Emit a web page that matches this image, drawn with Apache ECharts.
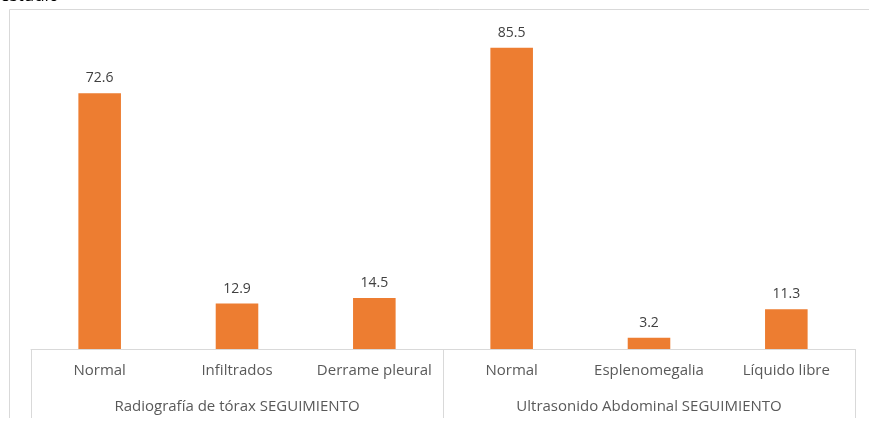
<!DOCTYPE html>
<html>
<head>
<meta charset="utf-8">
<script src="https://cdn.jsdelivr.net/npm/echarts@6/dist/echarts.min.js"></script>
<style>
  html, body { margin: 0; padding: 0; background: #ffffff; }
  #chart { width: 869px; height: 423px; }
</style>
</head>
<body>
<div id="chart"></div>
<script>
// Hallazgos de seguimiento (%), agrupados por estudio
const categories = ['Normal', 'Infiltrados', 'Derrame pleural', 'Normal', 'Esplenomegalia', 'Líquido libre'];
const groups = ['Radiografía de tórax SEGUIMIENTO', 'Ultrasonido Abdominal SEGUIMIENTO'];
const values = [72.6, 12.9, 14.5, 85.5, 3.2, 11.3];

const FONT = '"Open Sans", sans-serif';
const chart = echarts.init(document.getElementById('chart'));

chart.setOption({
  backgroundColor: '#ffffff',
  animation: false,
  grid: { left: 31, right: 14, top: 32, bottom: 74 },
  graphic: [
    {
      type: 'polyline',
      shape: { points: [[9.5, 418], [9.5, 9.5], [869, 9.5]] },
      style: { stroke: '#d9d9d9', lineWidth: 1, fill: null }
    },
    {
      type: 'text',
      left: 0,
      top: -12,
      style: { text: 'estudio', font: '17px ' + FONT, fill: '#000000' }
    }
  ],
  xAxis: [
    {
      type: 'category',
      data: categories,
      position: 'bottom',
      axisLine: { show: true, lineStyle: { color: '#d9d9d9', width: 1 } },
      axisTick: { show: false },
      axisLabel: { color: '#595959', fontFamily: FONT, fontSize: 15, margin: 14, interval: 0 },
      splitLine: { show: false }
    },
    {
      type: 'category',
      data: groups,
      position: 'bottom',
      axisLine: { show: false },
      axisTick: { show: true, length: 69, lineStyle: { color: '#d9d9d9', width: 1 } },
      axisLabel: { color: '#595959', fontFamily: FONT, fontSize: 15, margin: 50, interval: 0 },
      splitLine: { show: false }
    }
  ],
  yAxis: {
    type: 'value',
    min: 0,
    max: 90,
    show: false
  },
  series: [
    {
      type: 'bar',
      xAxisIndex: 0,
      data: values,
      barWidth: '31%',
      itemStyle: { color: '#ED7D31' },
      label: {
        show: true,
        position: 'top',
        distance: 8,
        color: '#404040',
        fontFamily: FONT,
        fontSize: 14
      }
    }
  ]
});
</script>
</body>
</html>
